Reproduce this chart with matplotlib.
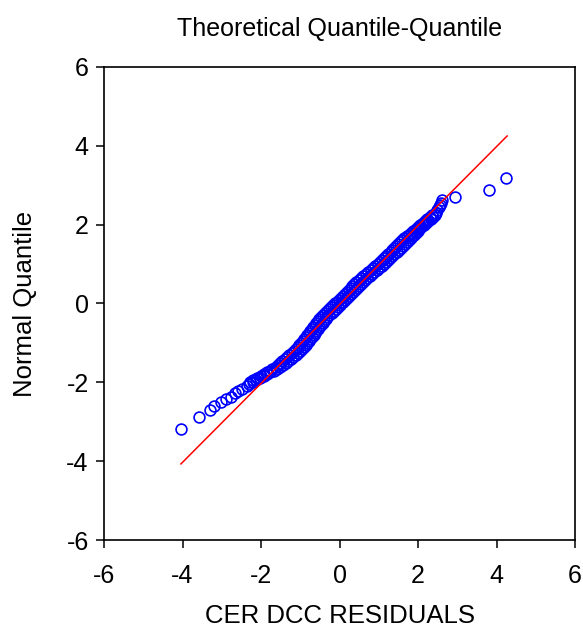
import matplotlib
matplotlib.use("Agg")
import matplotlib.pyplot as plt

plt.rcParams['font.family'] = ['Liberation Sans', 'DejaVu Sans']

# Sample residuals (x) and corresponding normal quantiles (y)
lower_tail_resid = [-4.04, -3.58, -3.30, -3.20, -3.02, -2.89, -2.76, -2.66, -2.59, -2.48, -2.36, -2.30]
lower_tail_quant = [-3.19, -2.88, -2.70, -2.60, -2.50, -2.42, -2.37, -2.27, -2.22, -2.17, -2.09, -2.04]

# dense central band: left and right edges of the band at each quantile
mid_quant = [-2.00, -1.95, -1.90, -1.85, -1.80, -1.75, -1.70, -1.65, -1.60, -1.55,
             -1.50, -1.45, -1.40, -1.35, -1.30, -1.25, -1.20, -1.15, -1.10, -1.05,
             -1.00, -0.95, -0.90, -0.85, -0.80, -0.75, -0.70, -0.65, -0.60, -0.55,
             -0.50, -0.45, -0.40, -0.35, -0.30, -0.25, -0.20, -0.15, -0.10, -0.05,
             0.00, 0.05, 0.10, 0.15, 0.20, 0.25, 0.30, 0.35, 0.40, 0.45,
             0.50, 0.55, 0.60, 0.65, 0.70, 0.75, 0.80, 0.85, 0.90, 0.95,
             1.00, 1.05, 1.10, 1.15, 1.20, 1.25, 1.30, 1.35, 1.40, 1.45,
             1.50, 1.55, 1.60, 1.65, 1.70, 1.75, 1.80, 1.85, 1.90, 1.95,
             2.00, 2.05, 2.10, 2.15, 2.20, 2.25]
mid_resid_left = [-2.29, -2.20, -2.11, -2.01, -1.92, -1.84, -1.78, -1.71, -1.63, -1.56,
                  -1.52, -1.46, -1.40, -1.34, -1.28, -1.22, -1.17, -1.12, -1.07, -1.02,
                  -0.98, -0.94, -0.90, -0.86, -0.82, -0.78, -0.75, -0.71, -0.67, -0.63,
                  -0.59, -0.55, -0.51, -0.47, -0.42, -0.36, -0.31, -0.26, -0.21, -0.16,
                  -0.12, -0.07, -0.02, 0.03, 0.08, 0.13, 0.18, 0.23, 0.28, 0.33,
                  0.38, 0.43, 0.49, 0.55, 0.61, 0.67, 0.73, 0.79, 0.85, 0.91,
                  0.97, 1.02, 1.08, 1.13, 1.19, 1.24, 1.30, 1.35, 1.40, 1.45,
                  1.50, 1.55, 1.60, 1.65, 1.72, 1.77, 1.82, 1.87, 1.95, 2.00,
                  2.06, 2.12, 2.18, 2.24, 2.30, 2.36]
mid_resid_right = [-2.21, -2.12, -2.03, -1.93, -1.84, -1.76, -1.66, -1.59, -1.51, -1.44,
                   -1.36, -1.30, -1.24, -1.18, -1.12, -1.06, -1.01, -0.96, -0.91, -0.86,
                   -0.82, -0.78, -0.74, -0.70, -0.66, -0.62, -0.59, -0.55, -0.51, -0.47,
                   -0.43, -0.39, -0.35, -0.31, -0.26, -0.20, -0.15, -0.10, -0.05, 0.00,
                   0.04, 0.09, 0.14, 0.19, 0.24, 0.29, 0.34, 0.39, 0.44, 0.49,
                   0.54, 0.59, 0.65, 0.71, 0.77, 0.83, 0.89, 0.95, 1.01, 1.07,
                   1.13, 1.18, 1.24, 1.29, 1.35, 1.40, 1.46, 1.51, 1.56, 1.61,
                   1.66, 1.71, 1.76, 1.81, 1.84, 1.89, 1.94, 1.99, 2.03, 2.08,
                   2.14, 2.20, 2.26, 2.32, 2.38, 2.44]

upper_tail_resid = [2.45, 2.49, 2.53, 2.56, 2.59, 2.62, 2.94, 3.81, 4.24]
upper_tail_quant = [2.30, 2.37, 2.44, 2.51, 2.56, 2.62, 2.70, 2.88, 3.19]

# Reference line endpoints
line_x = [-4.04, 4.27]
line_y = [-4.07, 4.25]

ticks = [-6, -4, -2, 0, 2, 4, 6]

fig = plt.figure(figsize=(5.83, 6.35), dpi=100)
ax = fig.add_axes([0.1784, 0.1496, 0.8079, 0.7449])

for xs, ys in [(lower_tail_resid, lower_tail_quant), (mid_resid_left, mid_quant),
               (mid_resid_right, mid_quant), (upper_tail_resid, upper_tail_quant)]:
    ax.plot(xs, ys, linestyle='none', marker='o', markersize=7.8,
            markerfacecolor='none', markeredgecolor='#0000ff', markeredgewidth=1.2)

ax.plot(line_x, line_y, color='#ff0000', linewidth=1.1)

ax.set_xlim(-6, 6)
ax.set_ylim(-6, 6)
ax.set_xticks(ticks)
ax.set_yticks(ticks)
ax.set_xticklabels([str(t) for t in ticks])
ax.set_yticklabels([str(t) for t in ticks])
ax.tick_params(direction='out', length=6, width=1.1, labelsize=18,
               top=False, right=False)
ax.tick_params(axis='y', pad=5)
ax.tick_params(axis='x', pad=11.5)
for s in ax.spines.values():
    s.set_linewidth(1.2)
    s.set_color('black')

ax.set_xlabel('CER DCC RESIDUALS', fontsize=18.5, labelpad=11)
ax.set_ylabel('Normal Quantile', fontsize=18.5, labelpad=21)
ax.set_title('Theoretical Quantile-Quantile', fontsize=18, pad=22)

fig.savefig('out.png', dpi=100)
